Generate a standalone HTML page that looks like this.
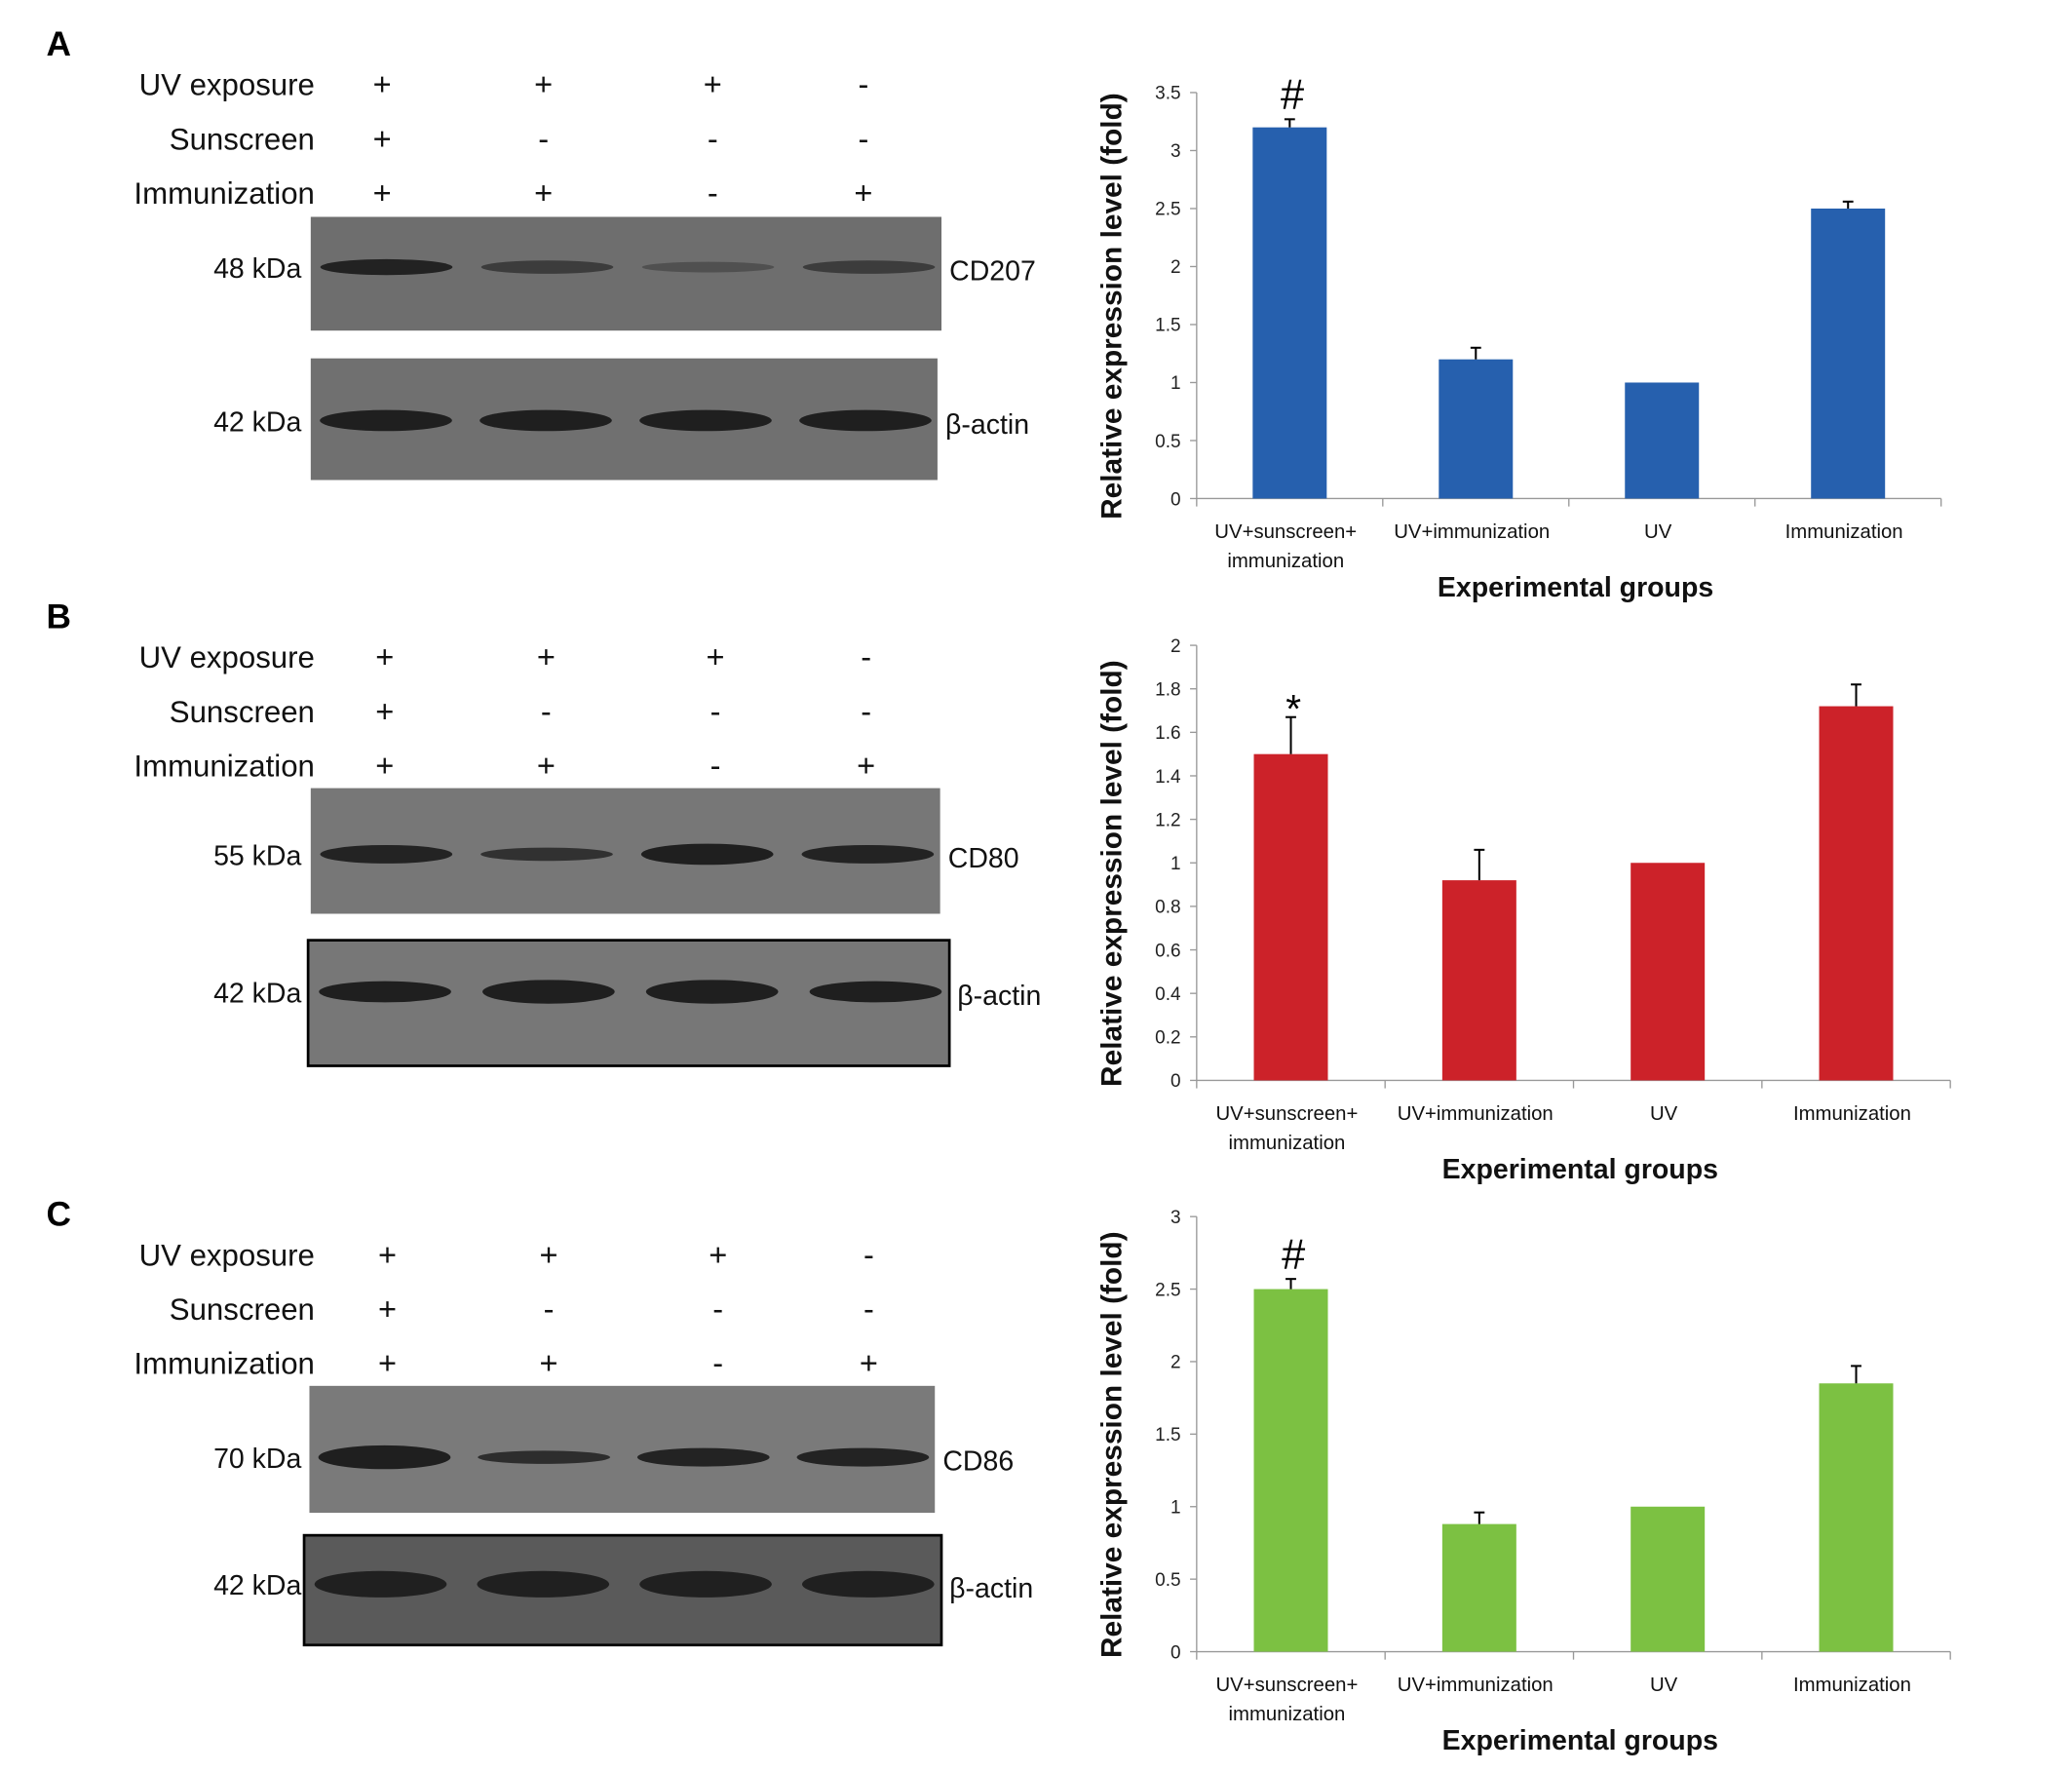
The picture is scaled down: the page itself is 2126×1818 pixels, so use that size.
<!DOCTYPE html>
<html><head><meta charset="utf-8"><style>
html,body{margin:0;padding:0;background:#fff;}
svg{display:block;}
text{font-family:"Liberation Sans",sans-serif;}
</style></head><body>
<svg id="fig" width="2126" height="1818" viewBox="0 0 1567 1340" preserveAspectRatio="none" xmlns="http://www.w3.org/2000/svg"></svg>
<script>
const categories = ["UV+sunscreen+|immunization","UV+immunization","UV","Immunization"];
const valuesA = [3.2,1.2,1.0,2.5];
const errorsA = [0.07,0.1,0,0.06];
const ticksA = ["0","0.5","1","1.5","2","2.5","3","3.5"];
const valuesB = [1.5,0.92,1.0,1.72];
const errorsB = [0.17,0.14,0,0.1];
const ticksB = ["0","0.2","0.4","0.6","0.8","1","1.2","1.4","1.6","1.8","2"];
const valuesC = [2.5,0.88,1.0,1.85];
const errorsC = [0.07,0.08,0,0.12];
const ticksC = ["0","0.5","1","1.5","2","2.5","3"];
const marksA = ["#","","",""];
const marksB = ["*","","",""];
const marksC = ["#","","",""];

const NS="http://www.w3.org/2000/svg";
const svg=document.getElementById('fig');
function mk(tag,attrs,parent,txt){const e=document.createElementNS(NS,tag);for(const k in attrs)e.setAttribute(k,attrs[k]);if(txt!==undefined)e.textContent=txt;(parent||svg).appendChild(e);return e;}

function chart(name,cfg,vals,errs,ticks,marks){
  const g=mk('g',{});
  
  
  const x0=905,x1=cfg.xEnd,y0=cfg.y0,yT=cfg.yTop;
  const max=parseFloat(ticks[ticks.length-1]);
  const y=v=>y0-(v/max)*(y0-yT);
  const step=(x1-x0)/vals.length;
  const ax=mk('line',{x1:x0,y1:yT,x2:x0,y2:y0,stroke:'#999','stroke-width':1},g);
  
  const bx=mk('line',{x1:x0,y1:y0,x2:x1,y2:y0,stroke:'#999','stroke-width':1},g);
  
  ticks.forEach(t=>{const v=parseFloat(t);const yy=y(v);
    mk('line',{x1:x0-5,y1:yy,x2:x0,y2:yy,stroke:'#999'},g);
    const tl=mk('text',{x:x0-12,y:yy+5,'text-anchor':'end','font-size':14,fill:'#222'},g,t);
    
  });
  for(let i=0;i<=vals.length;i++){const xx=x0+i*step;mk('line',{x1:xx,y1:y0,x2:xx,y2:y0+6,stroke:'#999'},g);}
  vals.forEach((v,i)=>{
    const cx=x0+step*(i+0.5);const w=56;
    const r=mk('rect',{x:cx-w/2,y:y(v),width:w,height:y0-y(v),fill:cfg.color},g);
    
    if(errs[i]>0){const ye=y(v+errs[i]);
      mk('line',{x1:cx,y1:y(v),x2:cx,y2:ye,stroke:'#000','stroke-width':1.5},g);
      mk('line',{x1:cx-4,y1:ye,x2:cx+4,y2:ye,stroke:'#000','stroke-width':1.5},g);}
    if(marks[i]){const m=mk('text',{x:cx+2,y:y(v+errs[i])-(marks[i]=='*'?-4:8),'text-anchor':'middle','font-size':marks[i]=='*'?30:32,'font-family':'Liberation Serif',fill:'#000'},g,marks[i]);
      }
    const parts=categories[i].split('|');
    parts.forEach((p,j)=>{const c=mk('text',{x:cx-3,y:y0+30+j*22,'text-anchor':'middle','font-size':15,fill:'#111'},g,p);
      });
  });
  const xt=mk('text',{x:(x0+x1)/2+5,y:y0+74,'text-anchor':'middle','font-size':21,'font-weight':'bold',fill:'#111'},g,'Experimental groups');
  
  const cy=(yT+y0)/2+8;
  const yt=mk('text',{x:848,y:cy,transform:`rotate(-90 848 ${cy})`,'text-anchor':'middle','font-size':22,'font-weight':'bold',fill:'#111'},g,'Relative expression level (fold)');
  
}

function blot(name,cfg){
  const g=mk('g',{});
  
  const lbl=mk('text',{x:35,y:cfg.top-2,'font-size':26,'font-weight':'bold','font-family':'Liberation Serif',fill:'#000'},g,cfg.letter);
  
  const rows=[['UV exposure',cfg.uv,cfg.top+20],['Sunscreen',cfg.ss,cfg.top+61],['Immunization',cfg.im,cfg.top+102]];
  const lx=[cfg.lx0,cfg.lx0+122,cfg.lx0+250,cfg.lx0+364];
  rows.forEach(r=>{
    const t=mk('text',{x:238,y:r[2]+8,'text-anchor':'end','font-size':23,fill:'#111'},g,r[0]);
    
    r[1].forEach((s,i)=>{const p=mk('text',{x:lx[i],y:r[2]+8,'text-anchor':'middle','font-size':24,fill:'#111'},g,s==='+'?'+':'-');
      });
  });
  cfg.panels.forEach(pn=>{
    const r=mk('rect',{x:pn.x,y:pn.y,width:pn.w,height:pn.h,fill:pn.bg,stroke:pn.border?'#000':'none','stroke-width':2},g);
    
    pn.bands.forEach((b,i)=>{const cx=pn.x+pn.w*(0.12+i*0.255);
      mk('ellipse',{cx:cx,cy:pn.by,rx:50,ry:b[0],fill:'#1a1a1a','fill-opacity':b[1]},g);});
    const k=mk('text',{x:228,y:pn.by+8,'text-anchor':'end','font-size':21,fill:'#111'},g,pn.kda);
    
    const n=mk('text',{x:pn.x+pn.w+6,y:pn.by+10,'font-size':21,fill:'#111'},g,pn.name);
    
  });
}

blot('blot-panel-a',{letter:'A',top:44,uv:['+','+','+','-'],ss:['+','-','-','-'],im:['+','+','-','+'],lx0:289,
 panels:[{x:235,y:164,w:477,h:86,bg:'#6e6e6e',by:202,kda:'48  kDa',name:'CD207',bands:[[6,0.9],[5,0.6],[4,0.35],[5,0.6]]},
         {x:235,y:271,w:474,h:92,bg:'#707070',by:318,kda:'42  kDa',name:'β-actin',bands:[[8,0.95],[8,0.95],[8,0.95],[8,0.95]]}]});
blot('blot-panel-b',{letter:'B',top:477,uv:['+','+','+','-'],ss:['+','-','-','-'],im:['+','+','-','+'],lx0:291,
 panels:[{x:235,y:596,w:476,h:95,bg:'#777',by:646,kda:'55  kDa',name:'CD80',bands:[[7,0.9],[5,0.75],[8,0.95],[7,0.9]]},
         {x:233,y:711,w:485,h:95,bg:'#777',border:true,by:750,kda:'42  kDa',name:'β-actin',bands:[[8,0.95],[9,0.95],[9,0.95],[8,0.95]]}]});
blot('blot-panel-c',{letter:'C',top:929,uv:['+','+','+','-'],ss:['+','-','-','-'],im:['+','+','-','+'],lx0:293,
 panels:[{x:234,y:1048,w:473,h:96,bg:'#7a7a7a',by:1102,kda:'70  kDa',name:'CD86',bands:[[9,0.95],[5,0.8],[7,0.9],[7,0.9]]},
         {x:230,y:1161,w:482,h:83,bg:'#5a5a5a',border:true,by:1198,kda:'42  kDa',name:'β-actin',bands:[[10,0.9],[10,0.9],[10,0.9],[10,0.9]]}]});

chart('bar-chart-cd207',{y0:377,yTop:70,xEnd:1468,color:'#2660ae'},valuesA,errorsA,ticksA,marksA);
chart('bar-chart-cd80',{y0:817,yTop:488,xEnd:1475,color:'#cc2229'},valuesB,errorsB,ticksB,marksB);
chart('bar-chart-cd86',{y0:1249,yTop:920,xEnd:1475,color:'#7cc142'},valuesC,errorsC,ticksC,marksC);
</script>
</body></html>
